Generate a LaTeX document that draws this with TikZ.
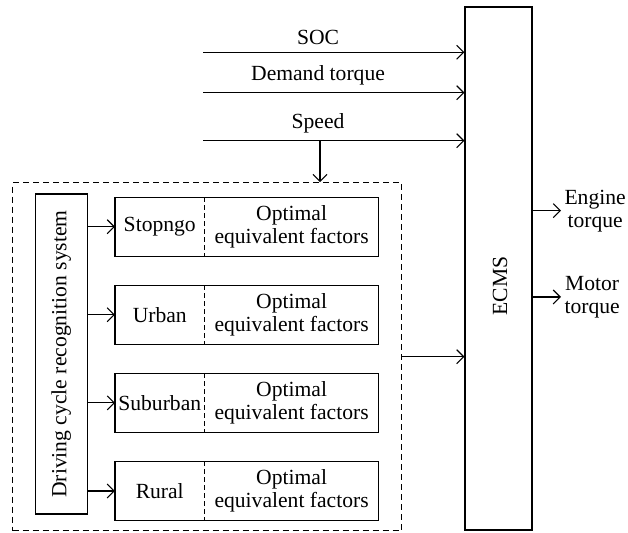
\documentclass[tikz,border=0pt]{standalone}
\usepackage{fontspec}
\setmainfont{Liberation Serif}
\usetikzlibrary{arrows.meta,positioning}

\tikzset{
  part/.style={minimum height=29pt, inner sep=0pt, align=center},
  cyc/.style={part, minimum width=44.25pt},
  fac/.style={part, minimum width=86.5pt},
  divider/.style={dash pattern=on 2.5pt off 1.5pt},
  outlab/.style={right, inner sep=1.5pt, align=center}
}

\begin{document}
\begin{tikzpicture}[x=0.5pt,y=-0.5pt,line width=0.55pt,
  >={Straight Barb[length=3.5pt,width=7pt]},
  font=\fontsize{10.8}{11.5}\selectfont]

\useasboundingbox (0,0) rectangle (628,533);

\node[draw, minimum width=33.5pt, minimum height=261.5pt, inner sep=0pt] (ecms) at (498.5,268.5) {};

\node[rotate=90] (ecmslab) at (500,286) {ECMS};

\node[draw, dashed, dash pattern=on 3pt off 2pt, minimum width=194.5pt, minimum height=174pt, inner sep=0pt] (frame) at (207.2,356.7) {};

\node[draw, rotate=90, minimum width=160pt, minimum height=26pt, inner sep=0pt] (dcrs) at (61.2,354) {Driving cycle recognition system};

\node[cyc] (stop) at (159.75,226.7) {Stopngo};
\node[fac, right=0pt of stop] (stopf) {Optimal\\equivalent factors};
\draw (stop.north west) rectangle (stopf.south east);
\draw[divider] (stop.north east) -- (stop.south east);

\node[cyc, below=14.5pt of stop] (urban) {Urban};
\node[fac, right=0pt of urban] (urbanf) {Optimal\\equivalent factors};
\draw (urban.north west) rectangle (urbanf.south east);
\draw[divider] (urban.north east) -- (urban.south east);

\node[cyc, below=14.5pt of urban] (suburban) {Suburban};
\node[fac, right=0pt of suburban] (suburbanf) {Optimal\\equivalent factors};
\draw (suburban.north west) rectangle (suburbanf.south east);
\draw[divider] (suburban.north east) -- (suburban.south east);

\node[cyc, below=14.5pt of suburban] (rural) {Rural};
\node[fac, right=0pt of rural] (ruralf) {Optimal\\equivalent factors};
\draw (rural.north west) rectangle (ruralf.south east);
\draw[divider] (rural.north east) -- (rural.south east);

\draw[->] (stop.west -| dcrs.south) -- (stop.west);
\draw[->] (urban.west -| dcrs.south) -- (urban.west);
\draw[->] (suburban.west -| dcrs.south) -- (suburban.west);
\draw[->] (rural.west -| dcrs.south) -- (rural.west);

\coordinate (socin) at (203,52.3);
\coordinate (torin) at (203,92.7);
\coordinate (spdin) at (203,140.7);
\coordinate (tap) at (320,140.7);

\draw[->] (socin) -- (socin -| ecms.west) node[pos=0.44, above] (soclab) {SOC};

\draw[->] (torin) -- (torin -| ecms.west) node[pos=0.44, above] (torlab) {Demand torque};

\draw[->] (spdin) -- (spdin -| ecms.west) node[pos=0.44, above] (spdlab) {Speed};

\draw[->] (tap) -- (tap |- frame.north);

\draw[->] (frame.east) -- (frame.east -| ecms.west);

\coordinate (engout) at (532,210.7);
\coordinate (motout) at (532,297);

\draw[->] (engout) -- ++(29,0) node[outlab] (englab) {Engine\\torque};

\draw[->] (motout) -- ++(29,0) node[outlab] (motlab) {Motor\\torque};

\end{tikzpicture}
\end{document}
